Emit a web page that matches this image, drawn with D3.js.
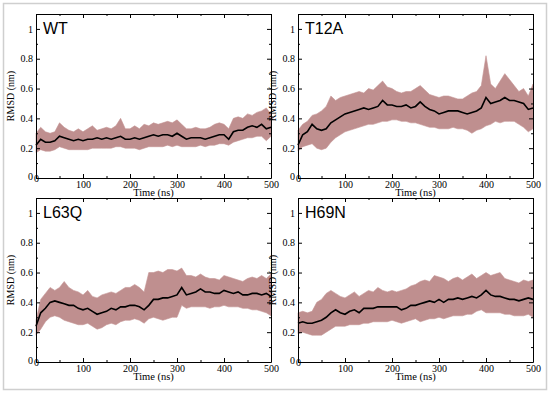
<!DOCTYPE html>
<html>
<head>
<meta charset="utf-8">
<script src="https://cdn.jsdelivr.net/npm/d3@7"></script>
<style>
	body { margin: 0; background: #fff; }
	.axis path, .axis line { stroke: #000; }
	svg text.serif, svg .axis text { font-family: 'Liberation Serif', 'DejaVu Serif', serif; }
</style>
</head>
<body>
<div id="chart"></div>
<script>
// time points (ns)
const times = [ 0, 10, 20, 30, 40, 50, 60, 70, 80, 90, 100, 110, 120, 130, 140, 150, 160, 170, 180, 190, 200,
	210, 220, 230, 240, 250, 260, 270, 280, 290, 300, 310, 320, 330, 340, 350, 360, 370, 380, 390, 400,
	410, 420, 430, 440, 450, 460, 470, 480, 490, 500 ];

const panelNames = [ 'WT', 'T12A', 'L63Q', 'H69N' ];

// running average (black line)
const wtMean = [ 0.22, 0.26, 0.24, 0.24, 0.25, 0.28, 0.27, 0.26, 0.25, 0.26, 0.25, 0.26, 0.26, 0.27, 0.26, 0.27, 0.26,
	0.27, 0.28, 0.26, 0.26, 0.27, 0.26, 0.27, 0.28, 0.29, 0.28, 0.29, 0.29, 0.28, 0.30, 0.28, 0.26, 0.27, 0.27, 0.27,
	0.26, 0.27, 0.28, 0.29, 0.29, 0.26, 0.31, 0.32, 0.32, 0.34, 0.35, 0.34, 0.36, 0.33, 0.34 ];
const t12aMean = [ 0.22, 0.29, 0.31, 0.36, 0.33, 0.32, 0.33, 0.37, 0.39, 0.41, 0.43, 0.44, 0.45, 0.46, 0.47, 0.46, 0.47,
	0.48, 0.52, 0.49, 0.49, 0.48, 0.48, 0.49, 0.47, 0.48, 0.51, 0.48, 0.46, 0.45, 0.43, 0.44, 0.45, 0.45, 0.45, 0.44,
	0.43, 0.44, 0.45, 0.47, 0.54, 0.50, 0.51, 0.52, 0.54, 0.52, 0.52, 0.51, 0.50, 0.46, 0.47 ];
const l63qMean = [ 0.24, 0.33, 0.36, 0.40, 0.41, 0.40, 0.39, 0.38, 0.38, 0.36, 0.35, 0.36, 0.34, 0.32, 0.33, 0.34, 0.36,
	0.35, 0.37, 0.37, 0.38, 0.38, 0.37, 0.35, 0.38, 0.42, 0.42, 0.43, 0.43, 0.44, 0.45, 0.50, 0.45, 0.46, 0.47, 0.49,
	0.47, 0.47, 0.46, 0.46, 0.48, 0.47, 0.46, 0.47, 0.45, 0.45, 0.46, 0.46, 0.45, 0.46, 0.44 ];
const h69nMean = [ 0.26, 0.27, 0.26, 0.26, 0.27, 0.28, 0.30, 0.33, 0.35, 0.33, 0.32, 0.34, 0.35, 0.33, 0.36, 0.36, 0.36,
	0.37, 0.37, 0.37, 0.37, 0.37, 0.35, 0.36, 0.38, 0.38, 0.39, 0.40, 0.41, 0.40, 0.42, 0.40, 0.42, 0.42, 0.43, 0.42,
	0.43, 0.44, 0.43, 0.45, 0.48, 0.45, 0.44, 0.44, 0.43, 0.42, 0.42, 0.41, 0.42, 0.43, 0.42 ];

// envelope of the raw RMSD (shaded band)
const wtHigh = [ 0.30, 0.34, 0.31, 0.30, 0.31, 0.37, 0.34, 0.32, 0.31, 0.33, 0.31, 0.33, 0.35, 0.32, 0.33, 0.34, 0.33,
	0.35, 0.40, 0.33, 0.33, 0.35, 0.33, 0.36, 0.35, 0.37, 0.36, 0.37, 0.38, 0.37, 0.39, 0.36, 0.33, 0.33, 0.34, 0.33,
	0.33, 0.34, 0.36, 0.37, 0.36, 0.33, 0.40, 0.41, 0.40, 0.43, 0.42, 0.44, 0.45, 0.47, 0.43 ];
const wtLow = [ 0.17, 0.19, 0.18, 0.18, 0.19, 0.21, 0.20, 0.19, 0.19, 0.19, 0.19, 0.19, 0.20, 0.20, 0.20, 0.20, 0.20,
	0.21, 0.21, 0.20, 0.20, 0.20, 0.19, 0.20, 0.21, 0.21, 0.21, 0.21, 0.22, 0.21, 0.22, 0.21, 0.21, 0.21, 0.21, 0.22,
	0.21, 0.22, 0.22, 0.23, 0.23, 0.22, 0.24, 0.25, 0.26, 0.27, 0.27, 0.28, 0.28, 0.25, 0.28 ];
const t12aHigh = [ 0.32, 0.36, 0.38, 0.42, 0.43, 0.45, 0.48, 0.55, 0.52, 0.54, 0.55, 0.56, 0.57, 0.58, 0.57, 0.60, 0.59,
	0.62, 0.65, 0.61, 0.60, 0.58, 0.57, 0.58, 0.58, 0.60, 0.62, 0.59, 0.56, 0.55, 0.54, 0.55, 0.55, 0.54, 0.53, 0.53,
	0.55, 0.57, 0.58, 0.62, 0.82, 0.63, 0.60, 0.65, 0.70, 0.66, 0.62, 0.58, 0.60, 0.55, 0.63 ];
const t12aLow = [ 0.18, 0.21, 0.22, 0.23, 0.20, 0.19, 0.20, 0.24, 0.27, 0.29, 0.31, 0.32, 0.33, 0.34, 0.35, 0.36, 0.36,
	0.37, 0.38, 0.38, 0.39, 0.39, 0.38, 0.38, 0.37, 0.37, 0.36, 0.35, 0.34, 0.34, 0.33, 0.33, 0.33, 0.34, 0.33, 0.33,
	0.32, 0.30, 0.32, 0.33, 0.35, 0.36, 0.38, 0.37, 0.38, 0.38, 0.38, 0.36, 0.34, 0.31, 0.33 ];
const l63qHigh = [ 0.28, 0.42, 0.46, 0.50, 0.48, 0.50, 0.54, 0.50, 0.48, 0.47, 0.45, 0.48, 0.44, 0.43, 0.45, 0.46, 0.47,
	0.46, 0.48, 0.50, 0.50, 0.52, 0.50, 0.47, 0.60, 0.60, 0.61, 0.60, 0.62, 0.62, 0.61, 0.63, 0.58, 0.58, 0.57, 0.59,
	0.57, 0.56, 0.56, 0.55, 0.58, 0.57, 0.56, 0.55, 0.54, 0.56, 0.57, 0.56, 0.58, 0.56, 0.59 ];
const l63qLow = [ 0.18, 0.22, 0.27, 0.30, 0.31, 0.30, 0.28, 0.27, 0.26, 0.25, 0.25, 0.26, 0.24, 0.22, 0.23, 0.25, 0.26,
	0.25, 0.27, 0.28, 0.28, 0.29, 0.28, 0.26, 0.29, 0.30, 0.29, 0.28, 0.29, 0.30, 0.30, 0.38, 0.36, 0.37, 0.37, 0.37,
	0.37, 0.36, 0.37, 0.37, 0.38, 0.37, 0.37, 0.37, 0.36, 0.36, 0.35, 0.35, 0.34, 0.33, 0.31 ];
const h69nHigh = [ 0.33, 0.34, 0.33, 0.34, 0.40, 0.42, 0.46, 0.48, 0.46, 0.44, 0.43, 0.45, 0.47, 0.44, 0.46, 0.48, 0.47,
	0.50, 0.48, 0.47, 0.48, 0.47, 0.48, 0.49, 0.51, 0.52, 0.54, 0.55, 0.54, 0.58, 0.57, 0.56, 0.54, 0.56, 0.57, 0.55,
	0.57, 0.59, 0.56, 0.58, 0.60, 0.58, 0.59, 0.60, 0.56, 0.55, 0.54, 0.53, 0.55, 0.54, 0.55 ];
const h69nLow = [ 0.19, 0.20, 0.19, 0.18, 0.18, 0.18, 0.20, 0.22, 0.24, 0.24, 0.24, 0.25, 0.25, 0.25, 0.26, 0.26, 0.27,
	0.27, 0.27, 0.27, 0.28, 0.27, 0.26, 0.27, 0.28, 0.29, 0.27, 0.28, 0.29, 0.29, 0.30, 0.29, 0.30, 0.31, 0.31, 0.31,
	0.32, 0.32, 0.34, 0.35, 0.33, 0.33, 0.33, 0.33, 0.32, 0.32, 0.31, 0.31, 0.31, 0.32, 0.30 ];

const xTicks = [ 0, 100, 200, 300, 400, 500 ];
const xMinor = [ 50, 150, 250, 350, 450 ];
const yTicks = [ 0, 0.2, 0.4, 0.6, 0.8, 1 ];
const yMinor = [ 0.1, 0.3, 0.5, 0.7, 0.9 ];

const means = [ wtMean, t12aMean, l63qMean, h69nMean ];
const highs = [ wtHigh, t12aHigh, l63qHigh, h69nHigh ];
const lows = [ wtLow, t12aLow, l63qLow, h69nLow ];

const width = 550, height = 393;
const panelW = 235, panelH = 164;
const origins = [ [ 36, 14 ], [ 298, 14 ], [ 36, 198 ], [ 298, 198 ] ];

const svg = d3.select('#chart').append('svg').attr('width', width).attr('height', height);

// light frame around the whole figure
svg.append('rect')
	.attr('x', 3.5).attr('y', 3.5)
	.attr('width', 543).attr('height', 386)
	.attr('fill', 'none').attr('stroke', '#cfcfcf').attr('stroke-width', 1.5);

const x = d3.scaleLinear().domain([ 0, 500 ]).range([ 0, panelW ]);
const y = d3.scaleLinear().domain([ 0, 1.1 ]).range([ panelH, 0 ]);

const yFmt = d => (d === 0 || d === 1 ? d3.format('d')(d) : d3.format('.1f')(d));

panelNames.forEach(function(name, p) {
	const g = svg.append('g').attr('transform', `translate(${origins[p][0]}, ${origins[p][1]})`);

	const rows = times.map((t, i) => ({ t: t, m: means[p][i], hi: highs[p][i], lo: lows[p][i] }));

	const band = d3.area().x(d => x(d.t)).y0(d => y(d.lo)).y1(d => y(d.hi));
	g.append('path').datum(rows).attr('d', band).attr('fill', '#bf8f8f').attr('stroke', '#c49494').attr('stroke-width', 0.6);

	const line = d3.line().x(d => x(d.t)).y(d => y(d.m));
	g.append('path').datum(rows).attr('d', line).attr('fill', 'none').attr('stroke', '#000').attr('stroke-width', 1.6);

	// axes, ticks pointing inwards on all four sides
	const addAxis = (axis, tx, ty, keepDomain) => {
		const a = g.append('g').attr('class', 'axis')
			.attr('transform', `translate(${tx}, ${ty})`)
			.call(axis)
			.attr('font-size', 10);
		if (!keepDomain) a.select('.domain').remove();
		return a;
	};

	addAxis(d3.axisBottom(x).tickValues(xTicks).tickSize(-4).tickSizeOuter(0).tickPadding(3).tickFormat(d3.format('d')), 0, panelH, true);
	addAxis(d3.axisBottom(x).tickValues(xMinor).tickSize(-2).tickFormat(''), 0, panelH, false);
	addAxis(d3.axisTop(x).tickValues(xTicks).tickSize(-4).tickSizeOuter(0).tickFormat(''), 0, 0, true);
	addAxis(d3.axisTop(x).tickValues(xMinor).tickSize(-2).tickFormat(''), 0, 0, false);

	addAxis(d3.axisLeft(y).tickValues(yTicks).tickSize(-4).tickSizeOuter(0).tickPadding(3).tickFormat(yFmt), 0, 0, true);
	addAxis(d3.axisLeft(y).tickValues(yMinor).tickSize(-2).tickFormat(''), 0, 0, false);
	addAxis(d3.axisRight(y).tickValues(yTicks).tickSize(-4).tickSizeOuter(0).tickFormat(''), panelW, 0, true);
	addAxis(d3.axisRight(y).tickValues(yMinor).tickSize(-2).tickFormat(''), panelW, 0, false);

	// the zero labels sit a touch lower in the original
	g.selectAll('.tick text').filter(d => d === 0).attr('dy', '0.1em');

	g.append('text')
		.text(name)
		.attr('x', 7).attr('y', 20)
		.style('font-family', "'Liberation Sans', Arial, sans-serif")
		.attr('font-size', 16);

	g.append('text')
		.attr('class', 'serif')
		.text('Time (ns)')
		.attr('x', panelW / 2).attr('y', panelH + 18)
		.attr('text-anchor', 'middle')
		.attr('font-size', 10.5);

	g.append('text')
		.attr('class', 'serif')
		.text('RMSD (nm)')
		.attr('transform', `translate(-22, ${panelH / 2}) rotate(-90)`)
		.attr('text-anchor', 'middle')
		.attr('font-size', 10);
});
</script>
</body>
</html>
